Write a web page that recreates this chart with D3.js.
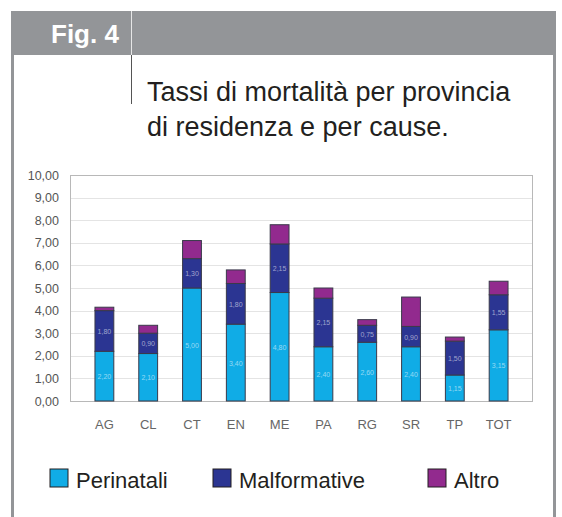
<!DOCTYPE html>
<html>
<head>
<meta charset="utf-8">
<script src="https://cdn.jsdelivr.net/npm/d3@7"></script>
<style>
  body { margin: 0; background: #fff; }
  svg { display: block; font-family: "Liberation Sans", Arial, sans-serif; }
</style>
</head>
<body>
<svg id="chart" width="562" height="517"></svg>
<script>
// province codes on the x axis
var provinces = ["AG", "CL", "CT", "EN", "ME", "PA", "RG", "SR", "TP", "TOT"];
// rates per cause
var perinatali   = [2.20, 2.10, 5.00, 3.40, 4.80, 2.40, 2.60, 2.40, 1.15, 3.15];
var malformative = [1.80, 0.90, 1.30, 1.80, 2.15, 2.15, 0.75, 0.90, 1.50, 1.55];
var altro        = [0.15, 0.35, 0.80, 0.60, 0.85, 0.45, 0.25, 1.30, 0.18, 0.60];
var yTicks = [0, 1, 2, 3, 4, 5, 6, 7, 8, 9, 10];
var causes = ["Perinatali", "Malformative", "Altro"];
var colors = ["#10ace6", "#2b3592", "#922a8e"];

var svg = d3.select("#chart");
var fmt = function(v) { return d3.format(".2f")(v).replace(".", ","); };

// frame + header band
svg.append("rect").attr("x", 12).attr("y", 11).attr("width", 544).attr("height", 44).attr("fill", "#939598");
svg.append("rect").attr("x", 11).attr("y", 11).attr("width", 3).attr("height", 506).attr("fill", "#939598");
svg.append("rect").attr("x", 553).attr("y", 11).attr("width", 3).attr("height", 506).attr("fill", "#939598");
svg.append("text").attr("x", 51).attr("y", 43).attr("fill", "#fff")
  .attr("font-weight", "bold").attr("font-size", 26).text("Fig. 4");
svg.append("line").attr("x1", 131.5).attr("x2", 131.5).attr("y1", 11).attr("y2", 55)
  .attr("stroke", "#e6e6e6").attr("stroke-width", 1);
svg.append("line").attr("x1", 131.5).attr("x2", 131.5).attr("y1", 55).attr("y2", 104)
  .attr("stroke", "#555").attr("stroke-width", 1);

var title = svg.append("text").attr("font-size", 27).attr("fill", "#231f20");
title.append("tspan").attr("x", 147).attr("y", 101).text("Tassi di mortalità per provincia");
title.append("tspan").attr("x", 147).attr("y", 136).text("di residenza e per cause.");

// plot
var plotL = 70, plotR = 533, plotT = 175, plotB = 401;
var x = d3.scaleBand().domain(provinces).range([plotL, plotR]).padding(0.57);
var y = d3.scaleLinear().domain([0, 10]).range([plotB, plotT]);

svg.append("g").selectAll("line").data(yTicks.slice(1)).join("line")
  .attr("x1", plotL).attr("x2", plotR)
  .attr("y1", function(d) { return Math.round(y(d)) + 0.5; })
  .attr("y2", function(d) { return Math.round(y(d)) + 0.5; })
  .attr("stroke", function(d) { return d === 10 ? "#b8b8b8" : "#e4e4e4"; });
svg.append("rect").attr("x", plotL + 0.5).attr("y", plotT + 0.5)
  .attr("width", plotR - plotL - 1).attr("height", plotB - plotT)
  .attr("fill", "none").attr("stroke", "#b8b8b8");

var yAxis = d3.axisLeft(y).tickValues(yTicks).tickFormat(fmt).tickSize(0).tickPadding(11);
svg.append("g").attr("transform", "translate(" + plotL + ",0)").call(yAxis)
  .call(function(g) { g.select(".domain").remove(); })
  .selectAll("text").attr("font-size", 12.5).attr("fill", "#555")
  .attr("font-family", "Liberation Sans, Arial, sans-serif");

var xAxis = d3.axisBottom(x).tickSize(0).tickPadding(19);
svg.append("g").attr("transform", "translate(0," + plotB + ")").call(xAxis)
  .call(function(g) { g.select(".domain").remove(); })
  .selectAll("text").attr("font-size", 13).attr("fill", "#666")
  .attr("font-family", "Liberation Sans, Arial, sans-serif");

var rows = provinces.map(function(p, i) {
  return { prov: p, Perinatali: perinatali[i], Malformative: malformative[i], Altro: altro[i] };
});
var series = d3.stack().keys(causes)(rows);

var layers = svg.append("g").selectAll("g").data(series).join("g")
  .attr("fill", function(d, i) { return colors[i]; });
layers.selectAll("rect").data(function(d) { return d; }).join("rect")
  .attr("x", function(d) { return x(d.data.prov); })
  .attr("width", x.bandwidth())
  .attr("y", function(d) { return y(d[1]); })
  .attr("height", function(d) { return y(d[0]) - y(d[1]); })
  .attr("stroke", "#3a3a4a").attr("stroke-width", 1);

// tiny value labels inside the segments
layers.filter(function(d, i) { return i < 2; })
  .selectAll("text").data(function(d) { return d; }).join("text")
  .attr("x", function(d) { return x(d.data.prov) + x.bandwidth() / 2; })
  .attr("y", function(d) { return (y(d[0]) + y(d[1])) / 2 + 3; })
  .attr("text-anchor", "middle").attr("font-size", 7)
  .attr("fill", "#fff").attr("fill-opacity", 0.55)
  .text(function(d) { return fmt(d[1] - d[0]); });

// legend
var legX = [50, 213, 428];
var leg = svg.append("g").selectAll("g").data(causes).join("g")
  .attr("transform", function(d, i) { return "translate(" + legX[i] + ",469)"; });
leg.append("rect").attr("width", 18).attr("height", 18)
  .attr("fill", function(d, i) { return colors[i]; })
  .attr("stroke", "#231f20").attr("stroke-width", 1);
leg.append("text").attr("x", 26).attr("y", 19).attr("font-size", 22)
  .attr("fill", "#231f20").text(function(d) { return d; });
</script>
</body>
</html>
